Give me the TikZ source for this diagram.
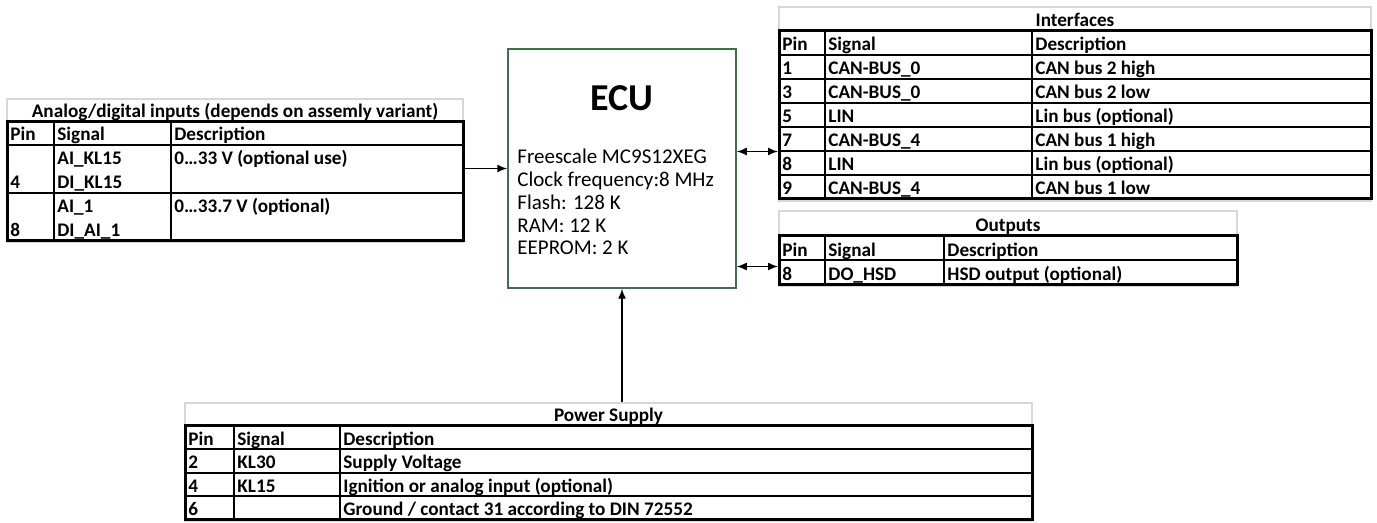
\documentclass[tikz,border=0pt]{standalone}
\usepackage{fontspec}
\setmainfont{Carlito}
\usetikzlibrary{arrows.meta,fit}
\definecolor{framegray}{RGB}{215,215,215}
\definecolor{ecugreen}{RGB}{65,110,75}
\newcommand{\tabfnt}{\fontsize{9.6pt}{10pt}\selectfont\bfseries}
\begin{document}
\begin{tikzpicture}[x=0.5pt,y=-0.5pt,
  tframe/.style={draw=framegray, line width=1pt, inner sep=0pt},
  gline/.style={line width=1pt},
  oline/.style={line width=1.5pt},
  cell/.style={anchor=base west, inner sep=0pt, font=\tabfnt},
  ttl/.style={anchor=base, inner sep=0pt, font=\tabfnt},
  body/.style={anchor=base west, inner sep=0pt, font=\fontsize{10.5pt}{11.5pt}\selectfont},
  arr/.style={-{Latex[length=5pt,width=4pt]}, line width=0.75pt},
  dbl/.style={{Latex[length=5pt,width=4pt]}-{Latex[length=5pt,width=4pt]}, line width=0.75pt}]
\useasboundingbox (0,0) rectangle (1377,523);

% ---------- ECU ----------
\node[fit={(508,49)(736,288)}, inner sep=0pt, draw=ecugreen, line width=0.75pt] (ecu) {};
\node[inner sep=0pt, font=\fontsize{19pt}{22pt}\selectfont\bfseries] (ecut) at (622,98) {ECU};
\node[body] (e1) at (517,163.5) {Freescale MC9S12XEG};
\node[body] (e2) at (517,187) {Clock frequency:8 MHz};
\node[body] (e3) at (517,209.5) {Flash: 128 K};
\node[body] (e4) at (517,233) {RAM: 12 K};
\node[body] (e5) at (517,255) {EEPROM: 2 K};

% ---------- Analog/digital inputs ----------
\node[tframe, fit={(7,99)(463,242)}] (analog) {};
\draw[oline] (7,122) rectangle (463,241);
\draw[gline] (7,145) -- (463,145) (7,193) -- (463,193);
\draw[gline] (54,122) -- (54,241) (171,122) -- (171,241);
\node[ttl] (at0) at (235,118) {Analog/digital inputs (depends on assemly variant)};
\node[cell] (ah1) at (10,141) {Pin};
\node[cell] (ah2) at (57,141) {Signal};
\node[cell] (ah3) at (174,141) {Description};
\node[cell] (a41) at (10,189) {4};
\node[cell] (a42) at (57,165) {AI\_KL15};
\node[cell] (a43) at (57,189) {DI\_KL15};
\node[cell] (a44) at (174,165) {0…33 V (optional use)};
\node[cell] (a81) at (10,237) {8};
\node[cell] (a82) at (57,213) {AI\_1};
\node[cell] (a83) at (57,237) {DI\_AI\_1};
\node[cell] (a84) at (174,213) {0…33.7 V (optional)};

% ---------- Interfaces ----------
\node[tframe, fit={(779,7)(1371,201)}] (iface) {};
\draw[oline] (779,31) rectangle (1371,199);
\foreach \yy in {55,79,103,127,151,175} \draw[gline] (779,\yy) -- (1371,\yy);
\draw[gline] (825,31) -- (825,199) (1032,31) -- (1032,199);
\node[ttl] (it0) at (1075,27) {Interfaces};
\node[cell] (ih1) at (782,51) {Pin};
\node[cell] (ih2) at (828,51) {Signal};
\node[cell] (ih3) at (1035,51) {Description};
\node[cell] (i11) at (782,75) {1};
\node[cell] (i12) at (828,75) {CAN-BUS\_0};
\node[cell] (i13) at (1035,75) {CAN bus 2 high};
\node[cell] (i31) at (782,99) {3};
\node[cell] (i32) at (828,99) {CAN-BUS\_0};
\node[cell] (i33) at (1035,99) {CAN bus 2 low};
\node[cell] (i51) at (782,123) {5};
\node[cell] (i52) at (828,123) {LIN};
\node[cell] (i53) at (1035,123) {Lin bus (optional)};
\node[cell] (i71) at (782,147) {7};
\node[cell] (i72) at (828,147) {CAN-BUS\_4};
\node[cell] (i73) at (1035,147) {CAN bus 1 high};
\node[cell] (i81) at (782,171) {8};
\node[cell] (i82) at (828,171) {LIN};
\node[cell] (i83) at (1035,171) {Lin bus (optional)};
\node[cell] (i91) at (782,195) {9};
\node[cell] (i92) at (828,195) {CAN-BUS\_4};
\node[cell] (i93) at (1035,195) {CAN bus 1 low};

% ---------- Outputs ----------
\node[tframe, fit={(779,211)(1237,286)}] (outp) {};
\draw[oline] (779,236) rectangle (1237,285);
\draw[gline] (779,260.5) -- (1237,260.5);
\draw[gline] (825,236) -- (825,285) (944,236) -- (944,285);
\node[ttl] (ot0) at (1008,232) {Outputs};
\node[cell] (oh1) at (782,256.5) {Pin};
\node[cell] (oh2) at (828,256.5) {Signal};
\node[cell] (oh3) at (947,256.5) {Description};
\node[cell] (o81) at (782,281) {8};
\node[cell] (o82) at (828,281) {DO\_HSD};
\node[cell] (o83) at (947,281) {HSD output (optional)};

% ---------- Power Supply ----------
\node[tframe, fit={(185,403)(1032,521)}] (power) {};
\draw[oline] (185,426) rectangle (1032,520);
\foreach \yy in {449.5,473,496.5} \draw[gline] (185,\yy) -- (1032,\yy);
\draw[gline] (234,426) -- (234,520) (340,426) -- (340,520);
\node[ttl] (pt0) at (608.5,422) {Power Supply};
\node[cell] (ph1) at (188,445.5) {Pin};
\node[cell] (ph2) at (237,445.5) {Signal};
\node[cell] (ph3) at (343,445.5) {Description};
\node[cell] (p21) at (188,469) {2};
\node[cell] (p22) at (237,469) {KL30};
\node[cell] (p23) at (343,469) {Supply Voltage};
\node[cell] (p41) at (188,492.5) {4};
\node[cell] (p42) at (237,492.5) {KL15};
\node[cell] (p43) at (343,492.5) {Ignition or analog input (optional)};
\node[cell] (p61) at (188,516) {6};
\node[cell] (p63) at (343,516) {Ground / contact 31 according to DIN 72552};

% ---------- Connectors ----------
\coordinate (ifpin) at (779,151.5);
\coordinate (oppin) at (779,266.5);
\draw[arr] (analog.east |- ecu.west) -- (ecu.west);
\draw[dbl] (ecu.east |- ifpin) -- (iface.west |- ifpin);
\draw[dbl] (ecu.east |- oppin) -- (outp.west |- oppin);
\draw[arr] (ecu.south |- power.north) -- (ecu.south);
\end{tikzpicture}
\end{document}
